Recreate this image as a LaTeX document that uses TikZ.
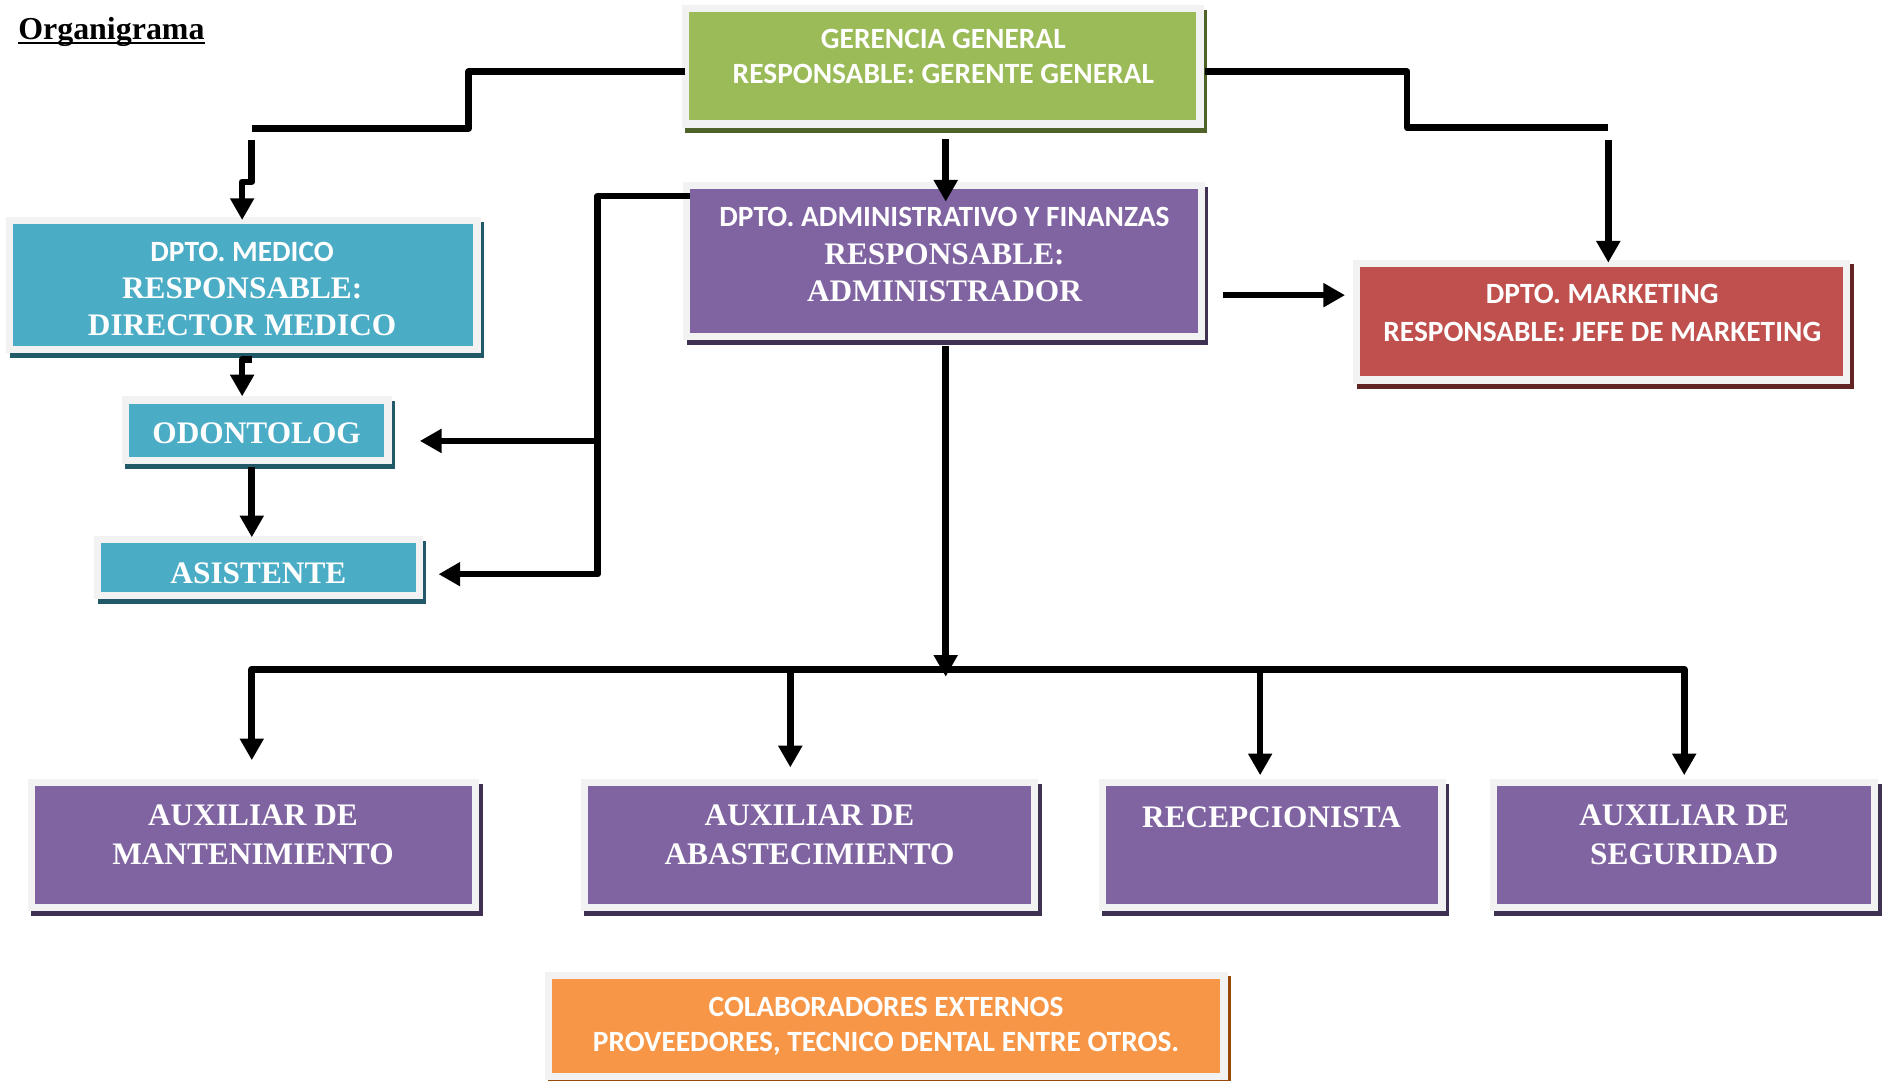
\documentclass[tikz,border=0pt]{standalone}
\usepackage{fontspec}
\newfontfamily\carl{Carlito}
\newfontfamily\tms{Liberation Serif}
\usetikzlibrary{arrows.meta,calc}

\definecolor{gframe}{HTML}{F2F2F2}
\definecolor{cgreen}{HTML}{9BBB59}
\definecolor{sgreen}{HTML}{4F6228}
\definecolor{cpurple}{HTML}{8064A2}
\definecolor{spurple}{HTML}{3F3151}
\definecolor{cblue}{HTML}{4BACC6}
\definecolor{sblue}{HTML}{215968}
\definecolor{cred}{HTML}{C0504D}
\definecolor{sred}{HTML}{632523}
\definecolor{corange}{HTML}{F79646}
\definecolor{sorange}{HTML}{984807}

\newcommand\calb{\carl\bfseries\fontsize{24.4}{31}\selectfont}
\newcommand\timb{\tms\bfseries\fontsize{26}{31}\selectfont}

\tikzset{
  orgbox/.style={rectangle, inner sep=0pt, draw=none},
  conn/.style={line width=5.5pt, black, line join=round},
  arr/.style={conn, -{Triangle[width=19pt,length=18pt]}},
  txt/.style={text=white, align=center, inner sep=0pt, font=\calb},
}

% name, x, y, w, h, fill, shadow
\newcommand\orgnode[7]{%
  \fill[#7] ({#2-#4/2-3},{#3-#5/2-2}) rectangle ({#2+#4/2+9},{#3+#5/2+10});
  \fill[gframe] ({#2-#4/2-6},{#3-#5/2-6}) rectangle ({#2+#4/2+6},{#3+#5/2+6});
  \node[orgbox, fill=#6, minimum width=#4pt, minimum height=#5pt] (#1) at (#2,#3) {};
}

\begin{document}
\begin{tikzpicture}[x=1pt,y=-1pt]
\useasboundingbox (0,0) rectangle (1568,897);
\fill[white] (0,0) rectangle (1568,897);

% title
\node[anchor=base west, inner sep=0pt, font=\tms\bfseries\fontsize{26.5}{30}\selectfont] (title) at (15,32.6) {Organigrama};
\draw[line width=1.8pt] ([yshift=-3pt]title.base west) -- ([yshift=-3pt]title.base east);

% boxes
\orgnode{gg}{782.5}{55}{421}{90}{cgreen}{sgreen}
\orgnode{admin}{783.5}{216.5}{421}{119}{cpurple}{spurple}
\orgnode{medico}{202}{236.5}{382}{101}{cblue}{sblue}
\orgnode{odont}{213}{357}{212}{44}{cblue}{sblue}
\orgnode{asist}{214.5}{471}{261}{40}{cblue}{sblue}
\orgnode{market}{1329.5}{267}{401}{91}{cred}{sred}
\orgnode{mant}{210.5}{701.5}{363}{98}{cpurple}{spurple}
\orgnode{abast}{672}{701.5}{368}{98}{cpurple}{spurple}
\orgnode{recep}{1056}{701.5}{276}{98}{cpurple}{spurple}
\orgnode{seg}{1398}{701.5}{310}{98}{cpurple}{spurple}
\orgnode{colab}{735.5}{851.5}{555}{78}{corange}{sorange}

% texts
\node[txt] (t-gg) at (783,46.9) {GERENCIA GENERAL\\[-2pt]RESPONSABLE: GERENTE GENERAL};
\node[txt] (t-admin) at (784,211.5) {DPTO. ADMINISTRATIVO Y FINANZAS\\\timb RESPONSABLE:\\\timb ADMINISTRADOR};
\node[txt] (t-medico) at (201,239.8) {DPTO. MEDICO\\\timb RESPONSABLE:\\\timb DIRECTOR MEDICO};
\node[txt, font=\timb] (t-odont) at (213,359.7) {ODONTOLOG};
\node[txt, font=\timb] (t-asist) at (214.5,475.5) {ASISTENTE};
\node[txt] (t-market) at (1330,259.9) {DPTO. MARKETING\\RESPONSABLE: JEFE DE MARKETING};
\node[txt, font=\timb] (t-mant) at (210,692.9) {AUXILIAR DE\\[1pt]MANTENIMIENTO};
\node[txt, font=\timb] (t-abast) at (672,692.9) {AUXILIAR DE\\[1pt]ABASTECIMIENTO};
\node[txt, font=\timb] (t-recep) at (1055.5,678.2) {RECEPCIONISTA};
\node[txt, font=\timb] (t-seg) at (1398,692.9) {AUXILIAR DE\\[1pt]SEGURIDAD};
\node[txt] (t-colab) at (735.5,852) {COLABORADORES EXTERNOS\\[-2pt]PROVEEDORES, TECNICO DENTAL ENTRE OTROS.};

% connector coordinates
\coordinate (m1) at (209,106.5);
\coordinate (m2) at (209,116);
\coordinate (m3) at (201,182.6);
\coordinate (k1) at (1335,106);
\coordinate (k2) at (1335,116);
\coordinate (k3) at (1335,218);
\coordinate (a1) at (785,115.7);
\coordinate (a2) at (785,167.4);
\coordinate (v1) at (496,162.7);
\coordinate (v2) at (496,366);
\coordinate (v3) at (496,476.6);
\coordinate (busL) at (209,555.5);
\coordinate (busR) at (1398,555.5);

% GG -> medico
\draw[conn] ([xshift=-3pt,yshift=-4.5pt]gg.west) -- (389,59.5) |- (m1);
\draw[arr] (m2) -- (209,151) -- (201,151) -- (m3);
% GG -> admin
\draw[arr] (a1) -- (a2);
% GG -> marketing
\draw[conn] ([xshift=7pt,yshift=-4.5pt]gg.east) -- (1168,59.5) |- (k1);
\draw[arr] (k2) -- (k3);
% admin -> marketing
\draw[arr] ([xshift=21pt,yshift=-28.5pt]admin.east) -- (1116.5,245);
% medico -> odontolog
\draw[arr] (209,298.5) -- (201,298.5) -- (201,329);
% odontolog -> asistente
\draw[arr] (209,388) -- (209,446);
% admin -> odontolog / asistente
\draw[arr] ([yshift=53.8pt]admin.west) -- (v1) -- (v3) -- (364,476.6);
\draw[arr] (v2) -- (348.5,366);
% admin -> bus
\draw[arr] (785,287) -- (785,561.7);
% bus and branches
\draw[conn, {Triangle[width=19pt,length=18pt]}-{Triangle[width=19pt,length=18pt]}] (209,631) -- (busL) -- (busR) -- (1398,643.5);
\draw[arr] (656,555.5) -- (656,637);
\draw[arr] (1046,555.5) -- (1046,643.5);
\end{tikzpicture}
\end{document}
